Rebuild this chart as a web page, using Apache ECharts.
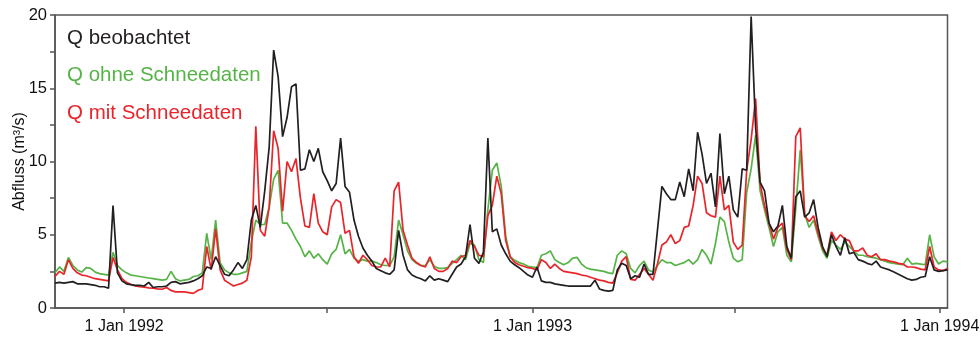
<!DOCTYPE html>
<html>
<head>
<meta charset="utf-8">
<script src="https://cdn.jsdelivr.net/npm/echarts@6/dist/echarts.min.js"></script>
<style>
  html, body { margin: 0; padding: 0; background: #fff; }
  #chart { width: 980px; height: 337px; }
</style>
</head>
<body>
<div id="chart"></div>
<script>
// Daily discharge, sampled every 4 days starting 31 Oct 1991
const sampleStart = '1991-10-31';
const sampleStepDays = 4;
const axisStart = '1991-10-31';
const axisEnd = '1994-01-08';

// Observed discharge (m³/s)
const qObserved = [
  1.7, 1.75, 1.7, 1.75, 1.8, 1.65, 1.65, 1.65, 1.6, 1.55,
  1.45, 1.45, 1.35, 7.0, 2.4, 1.85, 1.65, 1.6, 1.55, 1.55,
  1.5, 1.75, 1.4, 1.45, 1.45, 1.5, 1.75, 1.8, 1.65, 1.7,
  1.75, 1.85, 2.0, 2.2, 2.8, 2.7, 3.5, 2.9, 2.3, 2.2,
  2.6, 3.1, 2.7, 3.3, 6.0, 7.0, 5.5, 8.0, 11.0, 17.6,
  15.8, 11.7, 13.0, 15.1, 15.3, 9.4, 9.5, 10.8, 10.0, 10.9,
  9.3, 8.7, 8.0, 8.5, 11.6, 8.3, 7.9, 6.0, 4.9, 4.1,
  3.6, 3.2, 2.7, 2.55, 2.4, 2.3, 2.6, 5.3, 3.6, 2.6,
  2.25, 2.1, 2.0, 1.85, 2.2, 1.9, 2.0, 1.9, 1.8, 2.3,
  2.8, 3.0, 3.5, 5.7, 3.4, 3.05, 3.8, 11.6, 5.2, 5.4,
  4.3, 3.7, 3.2, 2.95, 2.75, 2.5, 2.25, 2.1, 2.8, 1.85,
  1.75, 1.75, 1.65, 1.6, 1.55, 1.5, 1.5, 1.5, 1.5, 1.5,
  1.5, 1.9, 1.3, 1.2, 1.15, 1.2, 2.6, 3.05, 2.9, 2.0,
  2.2, 2.1, 3.0, 2.3, 2.3, 5.3, 8.3, 7.8, 7.4, 7.4,
  8.6, 7.6, 9.5, 8.0, 12.0, 10.5, 8.5, 9.2, 6.9, 11.9,
  7.8, 9.0, 6.7, 6.2, 9.5, 9.4, 19.9, 12.3, 8.6, 8.0,
  5.8, 5.2, 5.6, 7.0, 4.2, 3.4, 7.6, 8.0, 6.2, 6.5,
  7.4, 5.5, 4.2, 3.5, 5.0, 4.2, 3.6, 4.8, 3.7, 3.8,
  3.3, 3.2, 3.05, 2.95, 3.2, 2.8, 2.7, 2.6, 2.45, 2.3,
  2.15, 2.0, 1.9, 1.95, 2.1, 2.15, 3.5, 2.6, 2.5, 2.55,
  2.6
];

// Simulated discharge without snow data (m³/s)
const qNoSnow = [
  2.4, 2.8, 2.5, 3.45, 2.9, 2.6, 2.45, 2.75, 2.7, 2.45,
  2.35, 2.3, 2.25, 3.8, 2.9, 2.6, 2.4, 2.25, 2.2, 2.15,
  2.1, 2.05, 2.0, 1.95, 1.9, 1.95, 2.5, 2.0, 1.85, 1.9,
  1.95, 2.15, 2.2, 2.4, 5.1, 3.3, 6.0, 3.1, 2.6, 2.4,
  2.3, 2.3, 2.4, 2.5, 4.5, 6.0, 5.7, 5.7, 6.9, 8.8,
  9.4, 5.8, 5.8, 5.3, 4.7, 4.2, 3.5, 3.9, 3.4, 3.7,
  3.3, 3.0, 3.7, 4.0, 5.0, 3.7, 4.0, 3.4, 3.2, 3.3,
  3.2, 3.2, 3.1, 2.95, 2.9, 2.9, 3.5, 6.0, 5.0, 3.9,
  3.3, 3.05, 2.9, 2.9, 3.3, 2.85, 2.7, 2.7, 2.75, 3.05,
  3.3, 3.6, 3.3, 4.4, 4.3, 3.3, 3.1, 6.7, 9.4, 9.9,
  8.3, 4.9, 3.5, 3.25, 3.1, 3.0, 2.85, 2.8, 2.75, 3.6,
  3.7, 3.9, 3.3, 3.1, 2.95, 3.1, 3.4, 3.45, 3.0, 2.75,
  2.65, 2.6, 2.55, 2.5, 2.4, 2.35, 3.6, 3.9, 3.7, 2.7,
  2.4, 2.9, 3.2, 2.6, 2.45, 2.9, 3.3, 3.1, 3.1, 2.9,
  3.0, 3.1, 3.3, 3.0, 3.3, 4.0, 3.6, 3.0, 4.4, 6.2,
  5.9, 4.5, 3.4, 3.15, 3.3, 7.9, 9.5, 11.8, 8.0, 6.7,
  5.5, 4.2, 5.2, 5.5, 3.6, 3.15, 6.8, 10.8, 6.4, 5.5,
  6.0, 4.9, 3.9, 3.4, 4.6, 4.3, 4.0, 4.5, 4.2, 3.9,
  3.6, 3.6, 3.5, 3.45, 3.4, 3.3, 3.2, 3.1, 3.05, 3.0,
  2.95, 3.4, 3.0, 3.05, 3.0, 2.95, 5.0, 3.5, 3.0, 3.2,
  3.15
];

// Simulated discharge with snow data (m³/s)
const qWithSnow = [
  2.15, 2.5, 2.3, 3.3, 2.7, 2.4, 2.25, 2.2, 2.1, 2.0,
  1.95, 1.9, 1.85, 3.45, 2.6, 2.0, 1.75, 1.6, 1.5, 1.45,
  1.42, 1.38, 1.35, 1.3, 1.28, 1.4, 1.2, 1.1, 1.1, 1.1,
  1.05, 1.0, 1.2, 1.3, 4.2, 2.6, 5.4, 2.6, 1.9, 1.7,
  1.5, 1.6, 1.7, 1.9, 3.5, 12.4, 5.3, 4.9, 6.9, 12.1,
  10.9, 6.6, 10.0, 9.3, 10.2, 7.5, 5.6, 5.5, 7.8, 5.8,
  5.2, 5.0, 6.9, 7.4, 7.2, 5.1, 5.3, 3.5, 3.05, 3.6,
  3.3, 2.9, 2.8, 2.8, 3.4, 2.8, 8.0, 8.6, 5.3, 4.3,
  3.4, 3.1, 2.9, 2.8, 3.5, 2.7, 2.5, 2.5, 2.7, 3.2,
  3.1, 3.5, 3.6, 4.6, 4.2, 3.6, 3.5, 6.3, 7.0, 9.0,
  7.8, 4.6, 3.5, 3.1, 2.95, 2.85, 2.75, 2.7, 2.6, 3.3,
  3.1, 2.7, 3.0, 2.7, 2.5, 2.45, 2.4, 2.35, 2.25, 2.2,
  2.1, 2.0, 1.9, 1.85, 1.75, 1.7, 2.4, 3.2, 3.5, 1.95,
  1.9, 2.3, 2.7, 2.3, 1.9, 3.0, 4.3, 4.5, 5.0, 4.4,
  4.6, 5.5, 5.6, 7.0, 9.0, 8.5, 6.5, 6.3, 6.2, 9.0,
  6.7, 7.0, 4.5, 4.0, 4.3, 9.4, 11.5, 14.3, 8.5, 7.0,
  5.8, 4.7, 5.5, 5.8, 4.0, 3.3, 11.7, 12.3, 6.3, 5.9,
  6.3, 5.1, 4.1, 3.6, 5.2, 4.6, 5.0, 4.7, 4.6, 3.9,
  3.9, 4.1, 3.6, 3.5, 3.7, 3.3, 3.3, 3.2, 3.15, 3.05,
  3.0, 2.8, 2.8, 2.75, 2.65, 2.6, 4.2, 2.8, 2.6, 2.55,
  2.7
];

const seriesNames = ['Q beobachtet', 'Q ohne Schneedaten', 'Q mit Schneedaten'];
const tickDates = ['1992-01-01', '1992-07-01', '1993-01-01', '1993-07-01', '1994-01-01'];
const labelDates = ['1992-01-01', '1993-01-01', '1994-01-01'];
const yLabelStep = 5;

const DAY = 86400000;
const toTime = s => Date.parse(s + 'T00:00:00Z');
const t0 = toTime(sampleStart);
const pairs = values => values.map((v, i) => [t0 + i * sampleStepDays * DAY, v]);

const FONT = '"Liberation Sans", Arial, Helvetica, sans-serif';
const AXIS_COLOR = '#555555';
const colors = { obs: '#231f20', noSnow: '#56b447', withSnow: '#e8252b' };

const chart = echarts.init(document.getElementById('chart'), null, { renderer: 'canvas' });

chart.setOption({
  animation: false,
  backgroundColor: '#ffffff',
  grid: {
    left: 55, right: 32.5, top: 15, bottom: 29,
    outerBoundsMode: 'none',
    show: true, borderColor: AXIS_COLOR, borderWidth: 1.5, backgroundColor: 'transparent'
  },
  xAxis: {
    type: 'value',
    min: toTime(axisStart),
    max: toTime(axisEnd),
    axisLine: { show: true, lineStyle: { color: AXIS_COLOR, width: 1.5 } },
    axisTick: {
      show: true, length: 5, inside: false,
      lineStyle: { color: AXIS_COLOR, width: 1.5 },
      customValues: tickDates.map(toTime)
    },
    axisLabel: {
      show: true,
      customValues: labelDates.map(toTime),
      formatter: v => '1 Jan ' + new Date(v).getUTCFullYear(),
      fontFamily: FONT, fontSize: 16, color: '#111', margin: 11,
      hideOverlap: false
    },
    splitLine: { show: false }
  },
  yAxis: {
    type: 'value',
    min: 0, max: 20, interval: 2.5,
    name: 'Abfluss (m³/s)',
    nameLocation: 'middle',
    nameGap: 27,
    nameMoveOverlap: false,
    nameTextStyle: { fontFamily: FONT, fontSize: 16, color: '#111' },
    axisLine: { show: true, lineStyle: { color: AXIS_COLOR, width: 1.5 } },
    axisTick: { show: true, length: 5, lineStyle: { color: AXIS_COLOR, width: 1.5 } },
    axisLabel: {
      fontFamily: FONT, fontSize: 16.5, color: '#111', margin: 8,
      formatter: v => (v % yLabelStep === 0) ? String(v) : ''
    },
    splitLine: { show: false }
  },
  series: [
    {
      name: seriesNames[1], type: 'line', showSymbol: false, data: pairs(qNoSnow),
      lineStyle: { color: colors.noSnow, width: 1.7 }, itemStyle: { color: colors.noSnow }, z: 2
    },
    {
      name: seriesNames[2], type: 'line', showSymbol: false, data: pairs(qWithSnow),
      lineStyle: { color: colors.withSnow, width: 1.7 }, itemStyle: { color: colors.withSnow }, z: 3
    },
    {
      name: seriesNames[0], type: 'line', showSymbol: false, data: pairs(qObserved),
      lineStyle: { color: colors.obs, width: 1.7 }, itemStyle: { color: colors.obs }, z: 4
    }
  ],
  graphic: [
    { type: 'text', left: 67, top: 27.5, style: { text: seriesNames[0], fill: colors.obs, font: '20.5px ' + FONT } },
    { type: 'text', left: 67, top: 65, style: { text: seriesNames[1], fill: colors.noSnow, font: '20.5px ' + FONT } },
    { type: 'text', left: 67, top: 102.5, style: { text: seriesNames[2], fill: colors.withSnow, font: '20.5px ' + FONT } }
  ]
});
</script>
</body>
</html>
